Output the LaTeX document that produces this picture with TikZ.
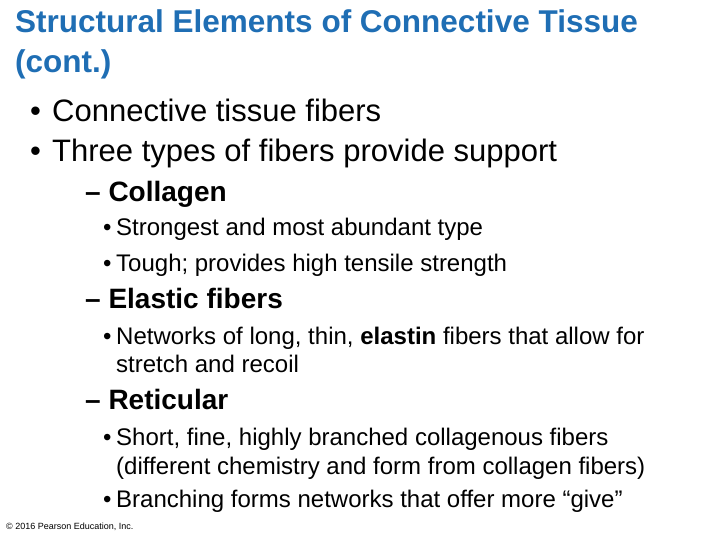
\documentclass[tikz,border=0pt]{standalone}
\usepackage{fontspec}
\setmainfont{Liberation Sans}
\usetikzlibrary{positioning}
\definecolor{titleblue}{RGB}{31,110,180}
\tikzset{
  txt/.style={anchor=base west, inner sep=0pt, font=\fontsize{#1}{#1}\selectfont},
  ttl/.style={txt=31.5, text=titleblue, font=\fontsize{31.5}{31.5}\selectfont\bfseries},
  sub/.style={txt=28, font=\fontsize{28}{28}\selectfont\bfseries},
}
\begin{document}
\begin{tikzpicture}[x=1pt,y=-1pt]
\useasboundingbox (0,0) rectangle (720,540);

% title
\node[ttl] (title1) at (15,33) {Structural Elements of Connective Tissue};
\node[ttl] (title2) at (15,73) {(cont.)};

% first level
\node[txt=31] (b1) at (30,122) {•};
\node[txt=31] (fibers) at (52,122) {Connective tissue fibers};
\node[txt=31] (b2) at (30,162) {•};
\node[txt=31] (types) at (52,162) {Three types of fibers provide support};

% collagen
\node[sub] (collagen) at (85,202) {– Collagen};
\node[txt=24] (b3) at (103,236) {•};
\node[txt=24] (strong) at (116,236) {Strongest and most abundant type};
\node[txt=24] (b4) at (103,271) {•};
\node[txt=24] (tough) at (116,271) {Tough; provides high tensile strength};

% elastic
\node[sub] (elastic) at (85,308) {– Elastic fibers};
\node[txt=24] (b5) at (103,344) {•};
\node[txt=24] (networks) at (116,344) {Networks of long, thin, \textbf{elastin} fibers that allow for};
\node[txt=24] (stretch) at (116,372) {stretch and recoil};

% reticular
\node[sub] (reticular) at (85,409) {– Reticular};
\node[txt=24] (b6) at (103,445) {•};
\node[txt=24] (short) at (116,445) {Short, fine, highly branched collagenous fibers};
\node[txt=24] (chem) at (116,474) {(different chemistry and form from collagen fibers)};
\node[txt=24] (b7) at (103,507) {•};
\node[txt=24] (branch) at (116,507) {Branching forms networks that offer more “give”};

\node[txt=9] (copy) at (6,529) {© 2016 Pearson Education, Inc.};
\end{tikzpicture}
\end{document}
